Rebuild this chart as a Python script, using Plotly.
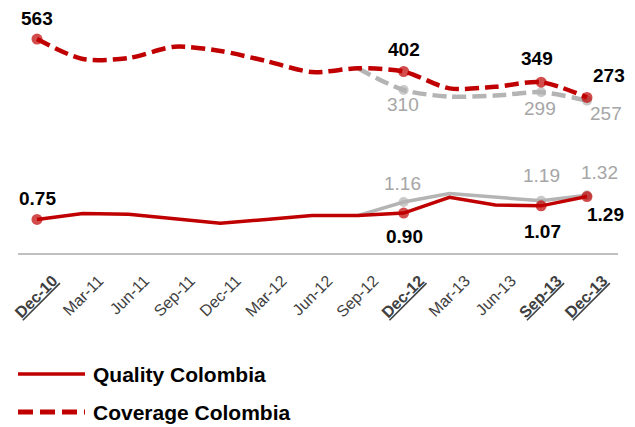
import plotly.graph_objects as go

# ---------------- data ----------------
categories = ["Dec-10", "Mar-11", "Jun-11", "Sep-11", "Dec-11", "Mar-12", "Jun-12",
              "Sep-12", "Dec-12", "Mar-13", "Jun-13", "Sep-13", "Dec-13"]
highlight = ["Dec-10", "Dec-12", "Sep-13", "Dec-13"]

coverage_red = [563, 464, 469, 525, 504, 454, 399, 418, 402, 318, 326, 349, 273]
coverage_gray = [None, None, None, None, None, None, None, 418, 310, 277, 282, 299, 257]
quality_red = [0.75, 0.89, 0.87, 0.76, 0.66, 0.75, 0.84, 0.84, 0.90, 1.27, 1.09, 1.07, 1.29]
quality_gray = [None, None, None, None, None, None, None, 0.84, 1.16, 1.36, 1.28, 1.19, 1.32]

series_names = ["Quality Colombia", "Coverage Colombia"]

# ---------------- styles ----------------
RED = "#C00000"
GRAY = "#B4B4B4"
GRAY_TXT = "#A6A6A6"
FONT = "Liberation Sans, Arial, sans-serif"

x = list(range(len(categories)))
hl_idx = [categories.index(c) for c in highlight]


def msizes(vals, size):
    return [size if (i in hl_idx and vals[i] is not None) else 0 for i in range(len(vals))]


fig = go.Figure()

# gray (behind)
fig.add_trace(go.Scatter(x=x, y=coverage_gray, yaxis="y", mode="lines+markers",
                         line=dict(color=GRAY, width=4.5, dash="14px,6px", shape="spline", smoothing=0.8),
                         marker=dict(color=GRAY, size=msizes(coverage_gray, 10), line=dict(width=0)),
                         connectgaps=False, showlegend=False, hoverinfo="skip"))
fig.add_trace(go.Scatter(x=x, y=quality_gray, yaxis="y2", mode="lines+markers",
                         line=dict(color=GRAY, width=3.5),
                         marker=dict(color=GRAY, size=msizes(quality_gray, 10), line=dict(width=0)),
                         showlegend=False, hoverinfo="skip"))
# red
fig.add_trace(go.Scatter(x=x, y=coverage_red, yaxis="y", mode="lines+markers",
                         name=series_names[1],
                         line=dict(color=RED, width=4.5, dash="14px,6px", shape="spline", smoothing=0.8),
                         marker=dict(color=RED, size=msizes(coverage_red, 11), line=dict(width=0)),
                         showlegend=False, hoverinfo="skip"))
fig.add_trace(go.Scatter(x=x, y=quality_red, yaxis="y2", mode="lines+markers",
                         name=series_names[0],
                         line=dict(color=RED, width=3.5),
                         marker=dict(color=RED, size=msizes(quality_red, 11), line=dict(width=0)),
                         showlegend=False, hoverinfo="skip"))

# ---------------- data labels ----------------
annotations = []
label_specs = [
    (coverage_red, "y", lambda v: f"{v:.0f}", "#000000", True,
     {0: (0, 21), 8: (0, 22), 11: (-4, 24), 12: (22, 22)}),
    (coverage_gray, "y", lambda v: f"{v:.0f}", GRAY_TXT, False,
     {8: (-1, -15), 11: (-1, -16), 12: (19, -13)}),
    (quality_red, "y2", lambda v: f"{v:.2f}", "#000000", True,
     {0: (0, 21), 8: (1, -23), 11: (1, -26), 12: (19, -18)}),
    (quality_gray, "y2", lambda v: f"{v:.2f}", GRAY_TXT, False,
     {8: (-1, 19), 11: (0, 25), 12: (13, 23)}),
]
for vals, ax, fmt, col, bold, offs in label_specs:
    for i, (dx, dy) in offs.items():
        v = vals[i]
        t = fmt(v)
        annotations.append(dict(x=x[i], y=v, xref="x", yref=ax, text=f"<b>{t}</b>" if bold else t,
                                showarrow=False, xshift=dx, yshift=dy,
                                font=dict(family=FONT, size=19, color=col)))

# ---------------- legend (manual) ----------------
leg_y = [374, 412]
leg_dash = ["solid", "15px,7px"]
leg_w = [3.5, 5]
shapes = []
for k, name in enumerate(series_names):
    yp = 1 - leg_y[k] / 253.0  # plot area spans y 0..253 px
    shapes.append(dict(type="line", xref="paper", yref="paper",
                       x0=0.0, x1=(85 - 18) / 600.0, y0=yp, y1=yp,
                       line=dict(color=RED, width=leg_w[k], dash=leg_dash[k])))
    annotations.append(dict(x=(91 - 18) / 600.0, y=yp, xref="paper", yref="paper",
                            xanchor="left", yanchor="middle", showarrow=False,
                            text=f"<b>{name}</b>",
                            font=dict(family=FONT, size=21, color="#000000")))

ticktext = []
for c in categories:
    if c in highlight:
        ticktext.append(f"<b><span style='text-decoration:underline'>{c}</span></b>")
    else:
        ticktext.append(c)

fig.update_layout(
    width=635, height=427,
    margin=dict(l=18, r=17, t=0, b=174),
    paper_bgcolor="white", plot_bgcolor="white",
    showlegend=False,
    xaxis=dict(range=[-0.4146, 12.677], tickmode="array", tickvals=x, ticktext=ticktext,
               tickangle=-45, showgrid=False, zeroline=False,
               showline=True, linecolor="#C0C0C0", linewidth=2,
               ticks="", ticklabelshift=16, ticklabelstandoff=10,
               tickfont=dict(family=FONT, size=16, color="#404040")),
    yaxis=dict(range=[-500.6, 757.5], visible=False, fixedrange=True),
    yaxis2=dict(range=[-0.042, 5.925], visible=False, overlaying="y", fixedrange=True),
    annotations=annotations,
    shapes=shapes,
)

fig.write_html("out.html")
